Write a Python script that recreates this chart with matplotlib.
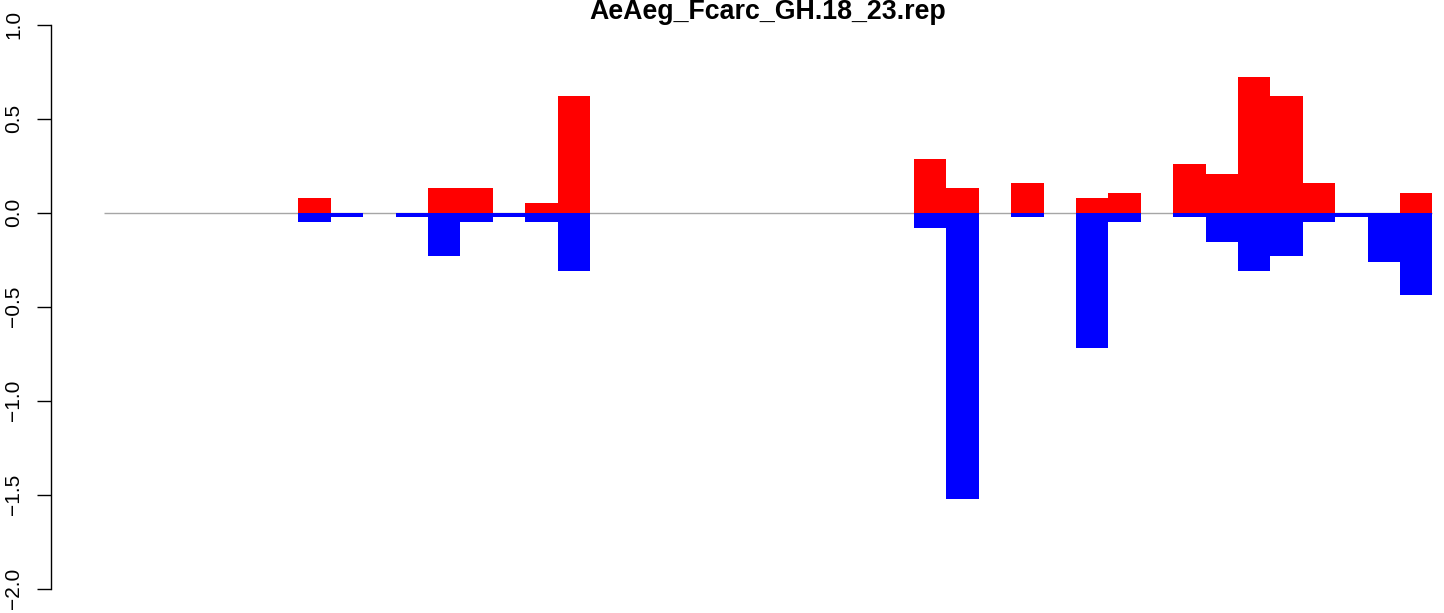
import matplotlib
matplotlib.use("Agg")
import matplotlib.pyplot as plt

title = "AeAeg_Fcarc_GH.18_23.rep"

# 41 window positions
pos_values = [0, 0, 0, 0, 0, 0, 0.08, 0, 0, 0,
              0.133, 0.133, 0, 0.053, 0.622, 0, 0, 0, 0, 0,
              0, 0, 0, 0, 0, 0.287, 0.133, 0, 0.16, 0,
              0.08, 0.106, 0, 0.26, 0.207, 0.723, 0.622, 0.16, 0, 0,
              0.106]
neg_values = [0, 0, 0, 0, 0, 0, -0.05, -0.025, 0, -0.025,
              -0.232, -0.05, -0.025, -0.05, -0.312, 0, 0, 0, 0, 0,
              0, 0, 0, 0, 0, -0.08, -1.525, 0, -0.025, 0,
              -0.72, -0.05, 0, -0.025, -0.158, -0.312, -0.232, -0.05, -0.025, -0.26,
              -0.44]
y_ticks = [-2.0, -1.5, -1.0, -0.5, 0.0, 0.5, 1.0]

plt.rcParams['font.family'] = ['Liberation Sans', 'DejaVu Sans']

W, H = 1444, 613
fig = plt.figure(figsize=(W / 100, H / 100), dpi=100)
left_px, right_px = 50.7, 1485.6
ax = fig.add_axes([left_px / W, 0, (right_px - left_px) / W, 1])

n = len(pos_values)
x = list(range(n))
ax.hlines(0, 0, n, color='#a6a6a6', lw=1.0, zorder=1)
ax.bar(x, pos_values, width=1.0, align='edge', color='#ff0000', linewidth=0, zorder=2)
ax.bar(x, neg_values, width=1.0, align='edge', color='#0000ff', linewidth=0, zorder=2)

ax.set_xlim(-1.645, 42.64)
ax.set_ylim(-2.129, 1.131)

for s in ['top', 'right', 'bottom']:
    ax.spines[s].set_visible(False)
ax.spines['left'].set_bounds(-2, 1)
ax.spines['left'].set_linewidth(1.0)
ax.set_xticks([])
ax.set_yticks(y_ticks)
ax.set_yticklabels([f"{v:.1f}".replace('-', '\u2212') for v in y_ticks])
ax.tick_params(axis='y', length=9.9, width=1.0, pad=10, labelsize=15, labelrotation=90)
for lab in ax.get_yticklabels():
    lab.set_verticalalignment('center')

fig.text(768 / W, 1 - 19 / H, title, ha='center', va='baseline',
         fontsize=19.3, fontweight='bold')

fig.savefig("out.png", dpi=100)
